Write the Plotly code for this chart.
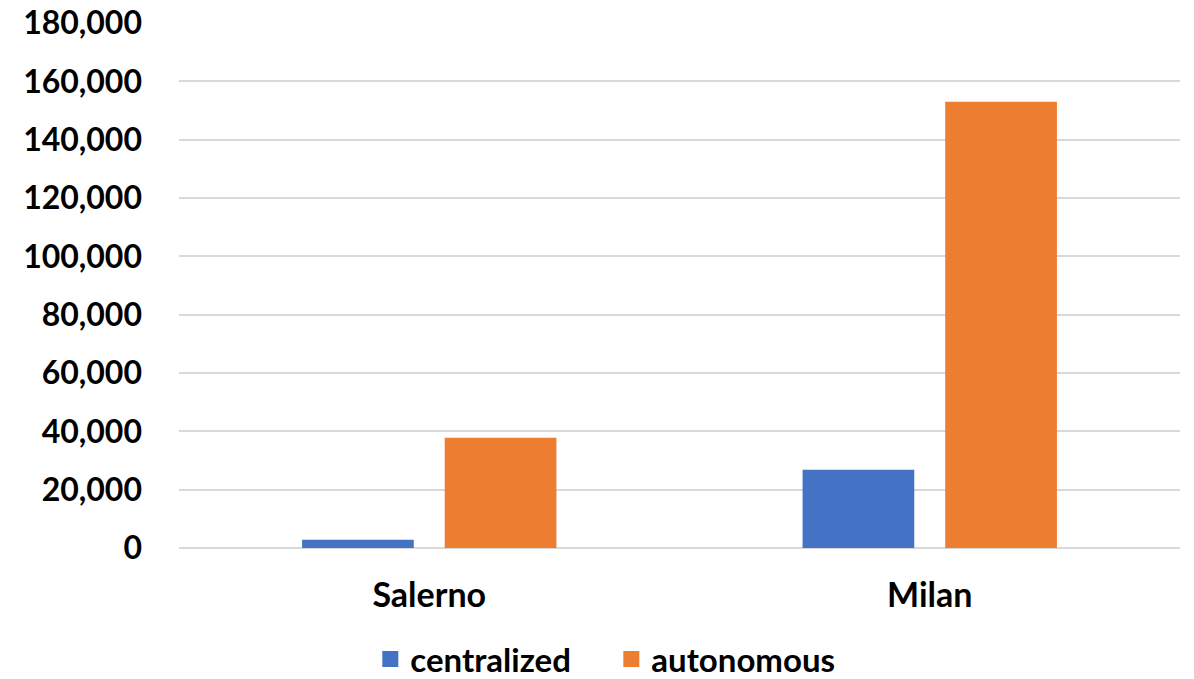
import plotly.graph_objects as go

categories = ["Salerno", "Milan"]
centralized = [2800, 26800]
autonomous = [37800, 153000]
series_names = ["centralized", "autonomous"]
colors = ["#4472C4", "#ED7D31"]
tick_vals = list(range(0, 180001, 20000))
tick_text = [f"{v:,}" for v in tick_vals]

FONT = "Lato"

fig = go.Figure()
for name, vals, col in zip(series_names, [centralized, autonomous], colors):
    fig.add_trace(go.Bar(x=categories, y=vals, name=name, marker=dict(color=col, line=dict(width=0)),
                         showlegend=False))
for name, col in zip(series_names, colors):
    fig.add_trace(go.Scatter(x=[None], y=[None], mode="markers", name=name,
                             marker=dict(symbol="square", size=20, color=col), showlegend=True))

fig.update_layout(
    width=1194, height=679,
    margin=dict(l=179, r=14, t=23, b=131),
    plot_bgcolor="white", paper_bgcolor="white",
    barmode="group", bargap=0.43, bargroupgap=0.217,
    font=dict(family=FONT, size=30, color="black"),
    legend=dict(orientation="h", x=0.512, xanchor="center", xref="container",
                y=1 - 659 / 679, yanchor="middle", yref="container",
                font=dict(family=FONT, size=33, color="black", weight="bold"),
                itemsizing="trace", itemwidth=30, tracegroupgap=0,
                entrywidth=196, entrywidthmode="pixels"),
    xaxis=dict(showgrid=False, showline=False, ticks="", ticklabelstandoff=24, automargin=False,
               tickfont=dict(family=FONT, size=34, color="black", weight="bold")),
    yaxis=dict(range=[0, 180000], tickvals=tick_vals, ticktext=tick_text, automargin=False,
               showgrid=True, gridcolor="#D9D9D9", gridwidth=1.5,
               zeroline=True, zerolinecolor="#D9D9D9", zerolinewidth=1.5,
               showline=False, ticks="", ticklabelstandoff=36,
               tickfont=dict(family=FONT, size=32, color="black", weight="bold")),
)

fig.write_html("out.html")
